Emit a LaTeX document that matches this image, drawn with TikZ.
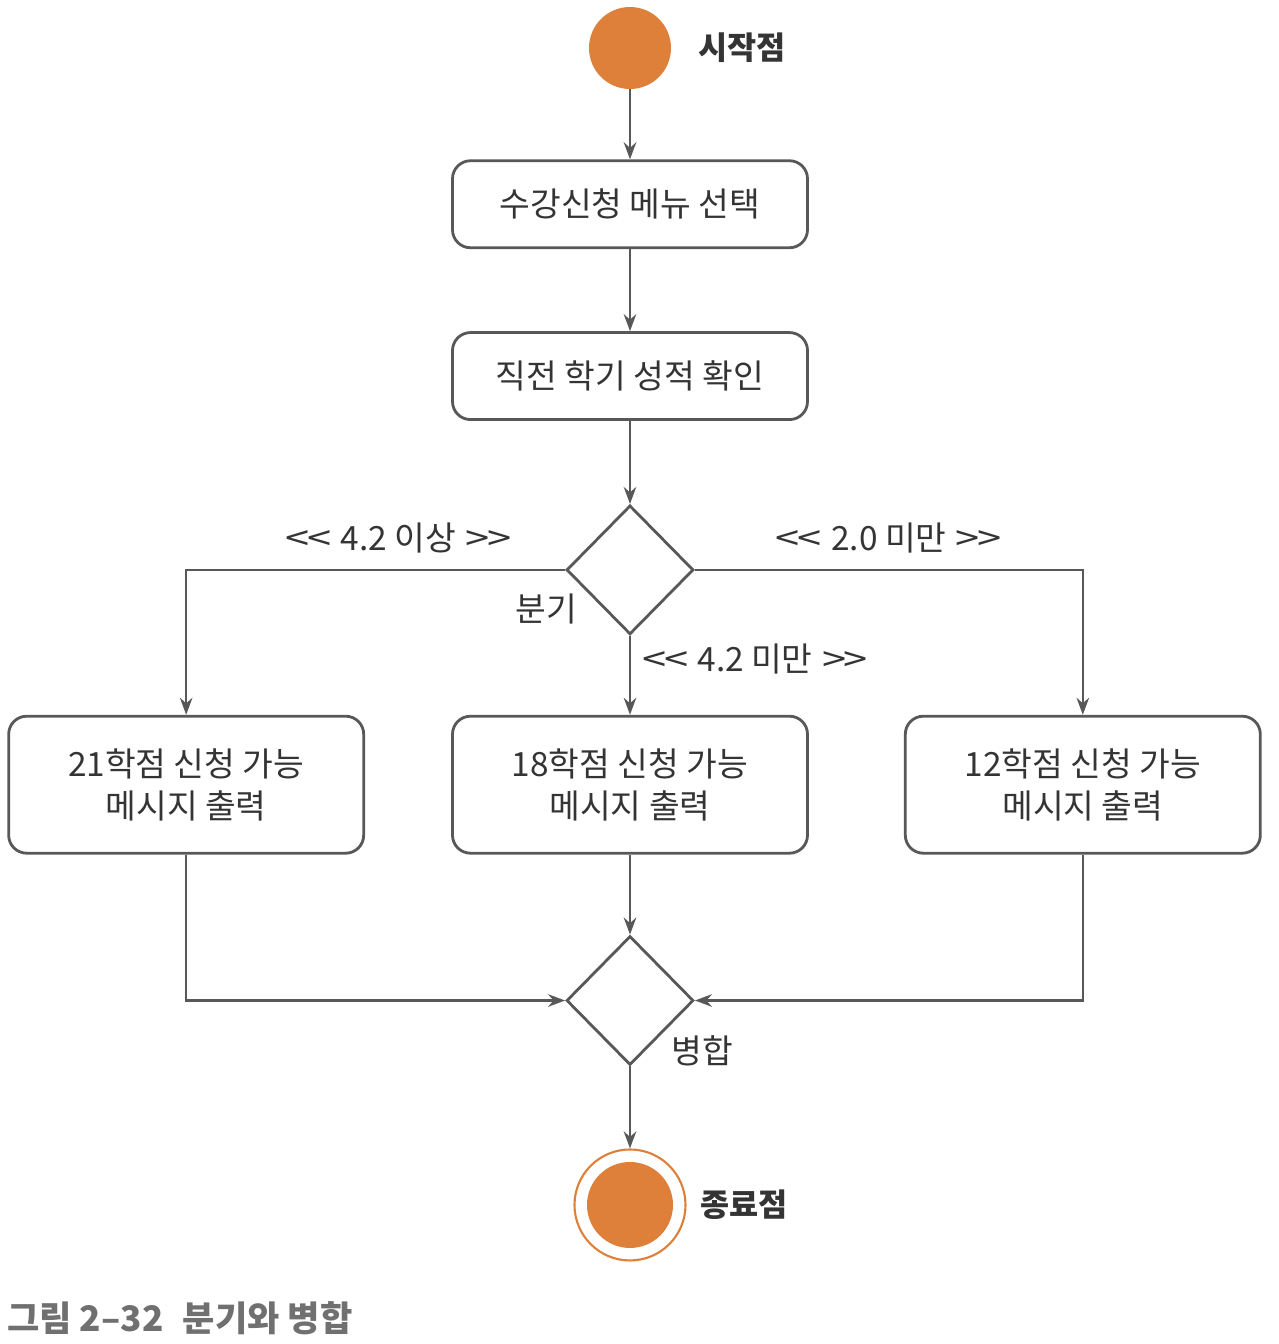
\documentclass[tikz,border=0pt]{standalone}
\usepackage{fontspec}
\usepackage{graphicx}
\usepackage{xcolor}
\usepackage{tikz}
\usetikzlibrary{arrows.meta, positioning, shapes.geometric, calc}
\newfontfamily\krfont{Noto Sans CJK KR}
\definecolor{umlorange}{RGB}{222,128,58}
\definecolor{umlline}{RGB}{88,88,88}
\definecolor{umltext}{RGB}{52,52,52}
\definecolor{captiongray}{RGB}{112,112,112}
\newcommand{\guard}[1]{\scalebox{1.3}[1]{<\kern-1pt<}\hspace{0.28em}#1\hspace{0.28em}\scalebox{1.3}[1]{>\kern-1pt>}}

\begin{document}
\begin{tikzpicture}[
  node distance=1.6cm and 1.8cm,
  every node/.style={text=umltext},
  box/.style={rectangle, draw=umlline, line width=1.6pt, rounded corners=0.36cm,
              minimum width=7.1cm, minimum height=1.74cm, align=center,
              font=\krfont\fontsize{19}{24}\selectfont},
  bigbox/.style={box, minimum height=2.74cm},
  decision/.style={diamond, draw=umlline, line width=1.6pt, aspect=1,
                   minimum width=2.54cm, minimum height=2.58cm, inner sep=0pt},
  startdot/.style={circle, fill=umlorange, minimum size=1.64cm, inner sep=0pt},
  endring/.style={circle, draw=umlorange, line width=1.2pt, minimum size=2.22cm, inner sep=0pt},
  enddot/.style={circle, fill=umlorange, minimum size=1.72cm, inner sep=0pt},
  lbl/.style={font=\krfont\fontsize{19}{24}\selectfont, inner sep=2pt},
  title/.style={font=\krfont\bfseries\fontsize{18}{22}\selectfont},
  arrow/.style={draw=umlline, line width=1.4pt,
                -{Stealth[length=3.4mm, width=2.5mm, fill=black!85]}}
]
  \useasboundingbox (-12.6,0.96) rectangle (12.96,-25.92);

  \node[startdot] (start) at (0,0) {};
  \node[title, right=0.42cm of start] (startlbl) {시작점};
  \node[box, below=1.40cm of start] (menu) {수강신청 메뉴 선택};
  \node[box, below=1.64cm of menu] (grade) {직전 학기 성적 확인};
  \node[decision, below=1.66cm of grade] (branch) {};
  \node[lbl] (branchlbl) at ([xshift=-1.68cm, yshift=-0.78cm]branch.center) {분기};
  \node[bigbox, below=1.58cm of branch] (mid) {18학점 신청 가능\\메시지 출력};
  \node[bigbox, left=1.72cm of mid] (high) {21학점 신청 가능\\메시지 출력};
  \node[bigbox, right=1.9cm of mid] (low) {12학점 신청 가능\\메시지 출력};
  \node[decision, below=1.60cm of mid] (merge) {};
  \node[lbl] (mergelbl) at ([xshift=1.44cm, yshift=-1.0cm]merge.center) {병합};
  \node[endring, below=1.64cm of merge] (finish) {};
  \node[enddot] (finishdot) at (finish.center) {};
  \node[title, right=0.16cm of finish] (finishlbl) {종료점};

  \node[anchor=west, text=captiongray, font=\krfont\bfseries\fontsize{20}{24}\selectfont]
    (caption) at (-12.58,-25.4) {그림 2–32\hspace{0.55em}분기와 병합};

  \draw[arrow] (start) -- (menu);
  \draw[arrow] (menu) -- (grade);
  \draw[arrow] (grade) -- (branch);
  \draw[arrow] (branch.west) -| node[lbl, pos=0.22, above=0.24cm] {\guard{4.2 이상}} (high.north);
  \draw[arrow] (branch.east) -| node[lbl, pos=0.25, above=0.24cm] {\guard{2.0 미만}} (low.north);
  \draw[arrow] (branch) -- node[lbl, pos=0.3, right=0.15cm] {\guard{4.2 미만}} (mid);
  \draw[arrow] (high.south) |- (merge.west);
  \draw[arrow] (low.south) |- (merge.east);
  \draw[arrow] (mid) -- (merge);
  \draw[arrow] (merge) -- (finish);
\end{tikzpicture}
\end{document}
